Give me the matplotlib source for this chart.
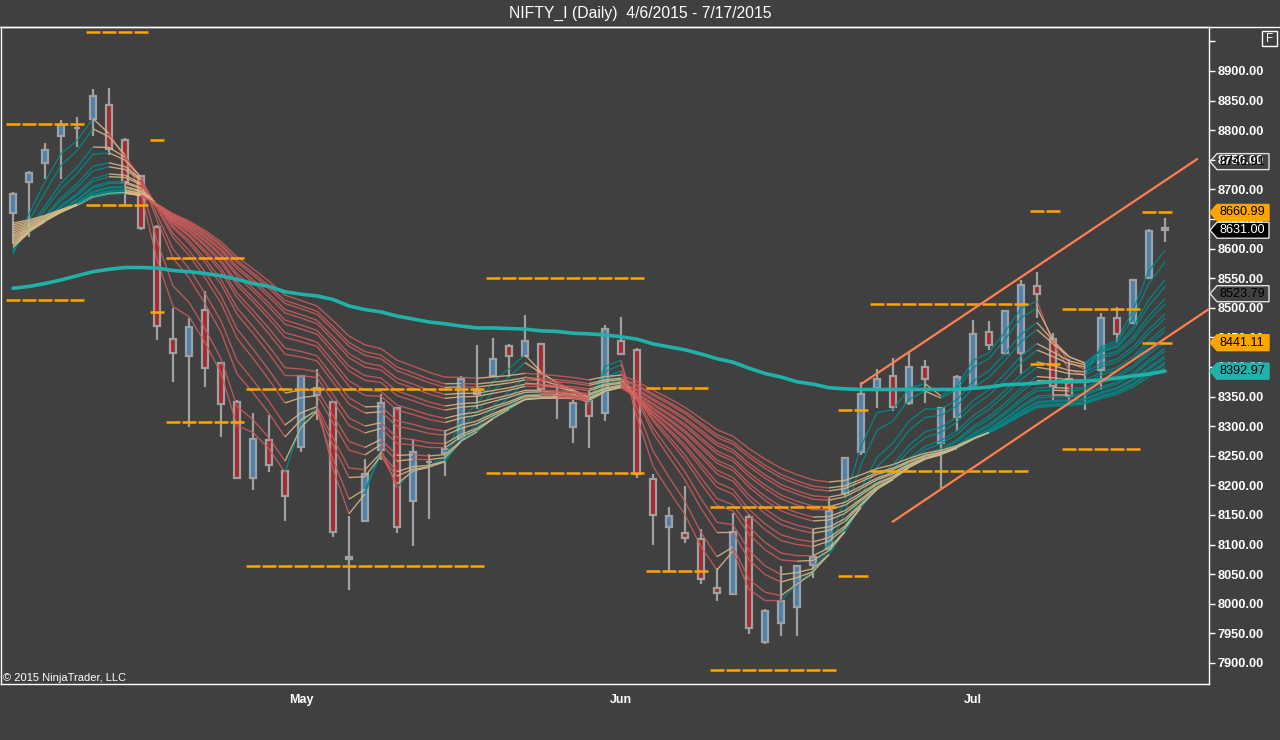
import numpy as np
import matplotlib
matplotlib.use("Agg")
import matplotlib.pyplot as plt
from matplotlib.patches import Rectangle, Polygon
from matplotlib.collections import LineCollection
from matplotlib.lines import Line2D

plt.rcParams['font.family'] = ['Liberation Sans', 'DejaVu Sans']

# ---------------- data ----------------
opens = [8660, 8712, 8745, 8791, 8803, 8819, 8843, 8783, 8723, 8637,
         8447, 8419, 8497, 8406, 8341, 8212, 8276, 8225, 8265, 8353,
         8341, 8079, 8140, 8260, 8330, 8174, 8239, 8254, 8278, 8354,
         8385, 8436, 8419, 8439, 8350, 8299, 8343, 8322, 8444, 8428,
         8210, 8129, 8119, 8110, 8026, 8017, 8146, 7936, 7967, 7994,
         8066, 8092, 8187, 8256, 8365, 8385, 8340, 8400, 8271, 8315,
         8365, 8459, 8423, 8423, 8536, 8447, 8380, 8374, 8395, 8482, 8475, 8551, 8635]
highs = [8696, 8731, 8778, 8818, 8822, 8869, 8871, 8786, 8724, 8640,
         8500, 8482, 8528, 8407, 8345, 8322, 8319, 8226, 8387, 8396,
         8343, 8148, 8244, 8354, 8332, 8278, 8253, 8294, 8385, 8437,
         8449, 8439, 8488, 8440, 8368, 8344, 8360, 8471, 8484, 8432,
         8220, 8163, 8199, 8126, 8061, 8153, 8152, 7992, 8063, 8064,
         8126, 8178, 8248, 8374, 8396, 8416, 8426, 8412, 8333, 8387,
         8479, 8478, 8496, 8547, 8560, 8458, 8413, 8406, 8492, 8501, 8549, 8633, 8651]
lows = [8607, 8620, 8717, 8717, 8771, 8790, 8758, 8673, 8631, 8446,
        8375, 8299, 8367, 8281, 8210, 8193, 8222, 8140, 8256, 8311,
        8112, 8023, 8139, 8243, 8119, 8097, 8144, 8216, 8276, 8329,
        8383, 8383, 8417, 8361, 8312, 8272, 8263, 8308, 8420, 8212,
        8100, 8056, 8103, 8033, 8004, 8015, 7949, 7932, 7945, 7946,
        8043, 8090, 8182, 8251, 8330, 8326, 8336, 8340, 8195, 8292,
        8362, 8428, 8420, 8388, 8482, 8344, 8336, 8327, 8361, 8442, 8474, 8550, 8611]
closes = [8692, 8728, 8767, 8808, 8804, 8857, 8769, 8713, 8634, 8469,
          8423, 8468, 8398, 8338, 8212, 8278, 8234, 8182, 8384, 8365,
          8122, 8076, 8219, 8339, 8129, 8257, 8240, 8262, 8379, 8360,
          8414, 8419, 8444, 8363, 8351, 8340, 8318, 8465, 8422, 8219,
          8150, 8148, 8111, 8042, 8018, 8121, 7959, 7987, 8005, 8063,
          8079, 8156, 8247, 8355, 8380, 8333, 8400, 8380, 8330, 8383,
          8455, 8437, 8495, 8538, 8524, 8368, 8351, 8376, 8482, 8456, 8547, 8630, 8631]

# slow moving average (teal thick line)
sma = [8533, 8536, 8541, 8547, 8554, 8561, 8565, 8568, 8568, 8567,
       8563, 8561, 8558, 8554, 8548, 8541, 8536, 8527, 8523, 8520,
       8514, 8503, 8497, 8493, 8486, 8481, 8476, 8473, 8469, 8466,
       8466, 8465, 8464, 8461, 8460, 8457, 8456, 8454, 8451, 8447,
       8439, 8434, 8429, 8422, 8414, 8408, 8398, 8389, 8383, 8375,
       8371, 8365, 8363, 8362, 8362, 8362, 8362, 8362, 8362, 8362,
       8364, 8366, 8370, 8371, 8373, 8375, 8375, 8376, 8378, 8381, 8385, 8388, 8393]

# EMA ribbon: periods and starting values
ribbon_periods = [3, 4, 6, 7, 9, 10, 12, 13, 15, 16, 18, 19, 21, 22, 24, 25, 27, 28, 30]
ribbon_start = [8590, 8593, 8596, 8599, 8602, 8605, 8608, 8611, 8614, 8617,
                8620, 8622, 8625, 8628, 8631, 8634, 8637, 8640, 8643]

# pivot levels: (first bar, last bar, upper, lower)
pivot_first = [0, 5, 9, 10, 15, 30, 40, 44, 52, 54, 64, 66, 71]
pivot_last = [4, 8, 9, 14, 29, 39, 43, 51, 53, 63, 65, 70, 72]
pivot_upper = [8810, 8966, 8783, 8584, 8363, 8550, 8365, 8164, 8327, 8506, 8663, 8498, 8661]
pivot_lower = [8513, 8674, 8493, 8307, 8063, 8221, 8056, 7888, 8047, 8225, 8405, 8262, 8441]

# channel lines (bar, price)
chan_up_x = [53, 74]
chan_up_y = [8371, 8751]
chan_lo_x = [55, 74.75]
chan_lo_y = [8139, 8498]

month_pos = [18, 38, 60]
month_lbl = ['May', 'Jun', 'Jul']

price_tags = [8746.91, 8660.99, 8631.00, 8523.79, 8441.11, 8392.97]
tag_face = ['none', '#FFA500', '#000000', 'none', '#FFA500', '#20B2AA']
tag_edge = ['#E0E0E0', '#FFA500', '#E0E0E0', '#E0E0E0', '#FFA500', '#20B2AA']
tag_text = ['#000000', '#000000', '#FFFFFF', '#000000', '#000000', '#000000']

# ---------------- figure ----------------
BG = '#404040'
W, H = 1280, 740
fig = plt.figure(figsize=(W / 100, H / 100), dpi=100, facecolor=BG)
ax = fig.add_axes([1 / W, 1 - 684 / H, 1208 / W, 657 / H])
ax.set_facecolor(BG)
n = len(closes)
ax.set_xlim(-0.75, 74.75)
ax.set_ylim(7864.5, 8974.3)

# candles
for i in range(n):
    o, h, l, c = opens[i], highs[i], lows[i], closes[i]
    ax.vlines(i, l, h, color='#A0A0A0', lw=1.6, zorder=2)
    col = '#4682B4' if c >= o else '#A52A2A'
    bh = max(abs(c - o), 0.6)
    ax.add_patch(Rectangle((i - 0.19, min(o, c)), 0.38, bh, facecolor=col,
                           edgecolor='#A0A0A0', lw=1.6, zorder=3))

# EMA ribbon
cl = np.array(closes, dtype=float)
emas = []
for p, s in zip(ribbon_periods, ribbon_start):
    a = 2.0 / (p + 1)
    e = np.empty(n)
    e[0] = s
    for t in range(1, n):
        e[t] = e[t - 1] + a * (cl[t] - e[t - 1])
    emas.append(e)
emas = np.array(emas)
K = len(emas)
TEAL, RED, TAN = '#008B8B', '#CD5C5C', '#DEB887'
segs, cols = [], []
for k in range(K):
    for t in range(1, n):
        rising = emas[k, t] > emas[k, t - 1]
        falling = emas[k, t] < emas[k, t - 1]
        up_ok = True
        dn_ok = True
        if k > 0:
            up_ok &= emas[k - 1, t] > emas[k, t]
            dn_ok &= emas[k - 1, t] < emas[k, t]
        if k < K - 1:
            up_ok &= emas[k, t] > emas[k + 1, t]
            dn_ok &= emas[k, t] < emas[k + 1, t]
        if rising and up_ok:
            c = TEAL
        elif falling and dn_ok:
            c = RED
        else:
            c = TAN
        segs.append([(t - 1, emas[k, t - 1]), (t, emas[k, t])])
        cols.append(c)
ax.add_collection(LineCollection(segs, colors=cols, linewidths=1.0, alpha=0.85, zorder=4))

# slow MA
ax.plot(range(n), sma, color='#20B2AA', lw=2.6, zorder=5, solid_capstyle='round')

# pivots
for f, l_, up, lo in zip(pivot_first, pivot_last, pivot_upper, pivot_lower):
    for b in range(f, l_ + 1):
        ax.hlines([up, lo], b - 0.44, b + 0.44, color='#FFA500', lw=1.8, zorder=6)

# channel
ax.plot(chan_up_x, chan_up_y, color='#FF7F50', lw=1.6, zorder=6, clip_on=False)
ax.plot(chan_lo_x, chan_lo_y, color='#FF7F50', lw=1.6, zorder=6)

# axes styling
for sp in ax.spines.values():
    sp.set_color('white')
    sp.set_linewidth(1)
ax.yaxis.tick_right()
yt = list(range(7900, 8951, 50))
ax.set_yticks(yt)
ax.set_yticklabels([f'{v:.2f}' if v <= 8900 else '' for v in yt])
ax.tick_params(axis='y', colors='white', length=4.5, width=1, pad=1.5,
               labelsize=9.2, labelcolor='white')
for lab in ax.get_yticklabels():
    lab.set_fontweight('bold')
ax.set_xticks(month_pos)
ax.set_xticklabels(month_lbl)
ax.tick_params(axis='x', colors='white', length=0, pad=7.5, labelsize=9)
for lab in ax.get_xticklabels():
    lab.set_fontweight('bold')

# top line
fig.add_artist(Line2D([0, 1], [1 - 27 / H] * 2, color='white', lw=1))

# title and texts
fig.text(0.5, 1 - 13 / H, 'NIFTY_I (Daily)  4/6/2015 - 7/17/2015', ha='center', va='center',
         color='white', fontsize=11.3)
fig.text(3 / W, 1 - 678 / H, '\u00a9 2015 NinjaTrader, LLC', ha='left', va='center',
         color='white', fontsize=8)

# "F" box
fig.add_artist(Rectangle((1262 / W, 1 - 46 / H), 15 / W, 15 / H, transform=fig.transFigure,
                         facecolor='none', edgecolor='white', lw=1))
fig.text(1269.5 / W, 1 - 38.5 / H, 'F', ha='center', va='center', color='white', fontsize=8.5)

# price tags on the right axis
fig.canvas.draw()
for val, fc, ec, tc in zip(price_tags, tag_face, tag_edge, tag_text):
    yd = ax.transData.transform((0, val))[1]
    yf = yd / H
    hh = 8 / H
    pts = [(1210 / W, yf), (1217 / W, yf + hh), (1269 / W, yf + hh),
           (1269 / W, yf - hh), (1217 / W, yf - hh)]
    fig.add_artist(Polygon(pts, closed=True, transform=fig.transFigure,
                           facecolor=fc, edgecolor=ec, lw=1, zorder=10))
    t = fig.text(1219.5 / W, yf, f'{val:.2f}', ha='left', va='center', color=tc, fontsize=9.1)
    t.set_zorder(11)

fig.savefig('out.png', dpi=100, facecolor=BG)
